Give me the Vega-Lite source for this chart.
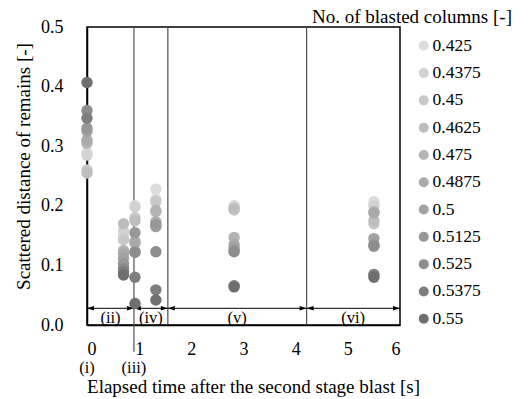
{
  "$schema": "https://vega.github.io/schema/vega-lite/v6.json",
  "autosize": {"type": "none"},
  "width": 313,
  "height": 298,
  "padding": {"left": 87, "top": 27, "right": 128, "bottom": 74},
  "background": "white",
  "title": {
    "text": "No. of blasted columns [-]",
    "anchor": "start",
    "frame": "group",
    "dx": 225,
    "dy": 12,
    "offset": 3,
    "font": "Times New Roman, Liberation Serif, serif",
    "fontSize": 19,
    "fontWeight": "normal",
    "color": "#000000"
  },
  "config": {
    "view": {"stroke": "#000000", "strokeWidth": 1.5},
    "axis": {
      "grid": false,
      "ticks": false,
      "domainColor": "#000000",
      "domainWidth": 1.5,
      "labelFont": "Times New Roman, Liberation Serif, serif",
      "labelFontSize": 18,
      "labelColor": "#000000",
      "titleFont": "Times New Roman, Liberation Serif, serif",
      "titleFontSize": 19,
      "titleFontWeight": "normal",
      "titleColor": "#000000"
    },
    "legend": {
      "labelFont": "Times New Roman, Liberation Serif, serif",
      "labelFontSize": 17.5,
      "labelColor": "#000000"
    }
  },
  "datasets": {
    "pts": [
      {"t": 0, "d": 0.29, "c": "0.425"},
      {"t": 0, "d": 0.285, "c": "0.4375"},
      {"t": 0, "d": 0.26, "c": "0.45"},
      {"t": 0, "d": 0.255, "c": "0.4625"},
      {"t": 0, "d": 0.305, "c": "0.475"},
      {"t": 0, "d": 0.31, "c": "0.4875"},
      {"t": 0, "d": 0.325, "c": "0.5"},
      {"t": 0, "d": 0.33, "c": "0.5125"},
      {"t": 0, "d": 0.36, "c": "0.525"},
      {"t": 0, "d": 0.347, "c": "0.5375"},
      {"t": 0, "d": 0.407, "c": "0.55"},
      {"t": 0.7, "d": 0.15, "c": "0.425"},
      {"t": 0.7, "d": 0.158, "c": "0.4375"},
      {"t": 0.7, "d": 0.143, "c": "0.45"},
      {"t": 0.7, "d": 0.17, "c": "0.4625"},
      {"t": 0.7, "d": 0.125, "c": "0.475"},
      {"t": 0.7, "d": 0.12, "c": "0.4875"},
      {"t": 0.7, "d": 0.112, "c": "0.5"},
      {"t": 0.7, "d": 0.103, "c": "0.5125"},
      {"t": 0.7, "d": 0.095, "c": "0.525"},
      {"t": 0.7, "d": 0.09, "c": "0.5375"},
      {"t": 0.7, "d": 0.084, "c": "0.55"},
      {"t": 0.92, "d": 0.2, "c": "0.425"},
      {"t": 0.92, "d": 0.198, "c": "0.4375"},
      {"t": 0.92, "d": 0.18, "c": "0.45"},
      {"t": 0.92, "d": 0.175, "c": "0.4625"},
      {"t": 0.92, "d": 0.137, "c": "0.475"},
      {"t": 0.92, "d": 0.14, "c": "0.4875"},
      {"t": 0.92, "d": 0.123, "c": "0.5"},
      {"t": 0.92, "d": 0.155, "c": "0.5125"},
      {"t": 0.92, "d": 0.122, "c": "0.525"},
      {"t": 0.92, "d": 0.08, "c": "0.5375"},
      {"t": 0.92, "d": 0.036, "c": "0.55"},
      {"t": 1.32, "d": 0.228, "c": "0.425"},
      {"t": 1.32, "d": 0.21, "c": "0.4375"},
      {"t": 1.32, "d": 0.207, "c": "0.45"},
      {"t": 1.32, "d": 0.19, "c": "0.4625"},
      {"t": 1.32, "d": 0.192, "c": "0.475"},
      {"t": 1.32, "d": 0.173, "c": "0.4875"},
      {"t": 1.32, "d": 0.165, "c": "0.5"},
      {"t": 1.32, "d": 0.168, "c": "0.5125"},
      {"t": 1.32, "d": 0.123, "c": "0.525"},
      {"t": 1.32, "d": 0.059, "c": "0.5375"},
      {"t": 1.32, "d": 0.042, "c": "0.55"},
      {"t": 2.82, "d": 0.2, "c": "0.425"},
      {"t": 2.82, "d": 0.198, "c": "0.4375"},
      {"t": 2.82, "d": 0.193, "c": "0.45"},
      {"t": 2.82, "d": 0.195, "c": "0.4625"},
      {"t": 2.82, "d": 0.147, "c": "0.475"},
      {"t": 2.82, "d": 0.135, "c": "0.4875"},
      {"t": 2.82, "d": 0.13, "c": "0.5"},
      {"t": 2.82, "d": 0.125, "c": "0.5125"},
      {"t": 2.82, "d": 0.123, "c": "0.525"},
      {"t": 2.82, "d": 0.066, "c": "0.5375"},
      {"t": 2.82, "d": 0.064, "c": "0.55"},
      {"t": 5.5, "d": 0.207, "c": "0.425"},
      {"t": 5.5, "d": 0.2, "c": "0.4375"},
      {"t": 5.5, "d": 0.17, "c": "0.45"},
      {"t": 5.5, "d": 0.175, "c": "0.4625"},
      {"t": 5.5, "d": 0.19, "c": "0.475"},
      {"t": 5.5, "d": 0.188, "c": "0.4875"},
      {"t": 5.5, "d": 0.145, "c": "0.5"},
      {"t": 5.5, "d": 0.135, "c": "0.5125"},
      {"t": 5.5, "d": 0.132, "c": "0.525"},
      {"t": 5.5, "d": 0.085, "c": "0.5375"},
      {"t": 5.5, "d": 0.08, "c": "0.55"}
    ],
    "vlines": [
      {"t": 0.9, "d": -0.045, "d2": 0.5},
      {"t": 1.55, "d": 0, "d2": 0.5},
      {"t": 4.21, "d": 0, "d2": 0.5}
    ],
    "arrows": [
      {"t": 0, "t2": 0.9, "d": 0.028},
      {"t": 0.9, "t2": 1.55, "d": 0.028},
      {"t": 1.55, "t2": 4.21, "d": 0.028},
      {"t": 4.21, "t2": 6, "d": 0.028}
    ],
    "labels": [
      {"t": 0.45, "d": 0.012, "label": "(ii)"},
      {"t": 1.225, "d": 0.012, "label": "(iv)"},
      {"t": 2.88, "d": 0.012, "label": "(v)"},
      {"t": 5.1, "d": 0.012, "label": "(vi)"},
      {"t": 0, "d": -0.072, "label": "(i)"},
      {"t": 0.9, "d": -0.072, "label": "(iii)"}
    ]
  },
  "layer": [
    {
      "data": {"name": "vlines"},
      "mark": {"type": "rule", "color": "#4d4d4d", "strokeWidth": 1.2},
      "encoding": {
        "x": {"field": "t", "type": "quantitative", "scale": {"domain": [0, 6], "nice": false}, "title": "Elapsed time after the second stage blast [s]", "axis": {"values": [0, 1, 2, 3, 4, 5, 6], "format": "d", "labelPadding": 15, "titlePadding": 19, "titleX": 166}},
        "y": {"field": "d", "type": "quantitative", "scale": {"domain": [0, 0.5], "nice": false}, "title": "Scattered distance of remains [-]", "axis": {"values": [0, 0.1, 0.2, 0.3, 0.4, 0.5], "format": ".1f", "labelPadding": 24, "titlePadding": 7, "titleY": 139}},
        "y2": {"field": "d2"}
      }
    },
    {
      "data": {"name": "arrows"},
      "mark": {"type": "rule", "color": "#000000", "strokeWidth": 1},
      "encoding": {
        "x": {"field": "t", "type": "quantitative", "title": "Elapsed time after the second stage blast [s]"},
        "x2": {"field": "t2"},
        "y": {"field": "d", "type": "quantitative", "title": "Scattered distance of remains [-]"}
      }
    },
    {
      "data": {"name": "arrows"},
      "mark": {"type": "point", "shape": "M0,0L-2,-0.65L-2,0.65Z", "filled": true, "color": "#000000", "opacity": 1, "size": 49},
      "encoding": {
        "x": {"field": "t2", "type": "quantitative", "title": "Elapsed time after the second stage blast [s]"},
        "y": {"field": "d", "type": "quantitative", "title": "Scattered distance of remains [-]"}
      }
    },
    {
      "data": {"name": "arrows"},
      "mark": {"type": "point", "shape": "M0,0L2,-0.65L2,0.65Z", "filled": true, "color": "#000000", "opacity": 1, "size": 49},
      "encoding": {
        "x": {"field": "t", "type": "quantitative", "title": "Elapsed time after the second stage blast [s]"},
        "y": {"field": "d", "type": "quantitative", "title": "Scattered distance of remains [-]"}
      }
    },
    {
      "data": {"name": "labels"},
      "mark": {"type": "text", "font": "Times New Roman, Liberation Serif, serif", "fontSize": 16.5, "color": "#000000", "baseline": "middle", "align": "center"},
      "encoding": {
        "x": {"field": "t", "type": "quantitative", "title": "Elapsed time after the second stage blast [s]"},
        "y": {"field": "d", "type": "quantitative", "title": "Scattered distance of remains [-]"},
        "text": {"field": "label"}
      }
    },
    {
      "data": {"name": "pts"},
      "mark": {"type": "point", "shape": "circle", "filled": true, "opacity": 1, "size": 130},
      "encoding": {
        "x": {"field": "t", "type": "quantitative", "title": "Elapsed time after the second stage blast [s]"},
        "y": {"field": "d", "type": "quantitative", "title": "Scattered distance of remains [-]"},
        "color": {
          "field": "c",
          "type": "nominal",
          "scale": {
            "domain": ["0.425", "0.4375", "0.45", "0.4625", "0.475", "0.4875", "0.5", "0.5125", "0.525", "0.5375", "0.55"],
            "range": ["#dcdcdc", "#d2d2d2", "#c8c8c8", "#bebebe", "#b4b4b4", "#aaaaaa", "#a2a2a2", "#989898", "#8d8d8d", "#7e7e7e", "#6f6f6f"]
          },
          "legend": {
            "title": null,
            "orient": "none",
            "legendX": 328,
            "legendY": 10,
            "symbolSize": 100,
            "symbolType": "circle",
            "rowPadding": 8.3,
            "labelOffset": 0
          }
        }
      }
    }
  ]
}
